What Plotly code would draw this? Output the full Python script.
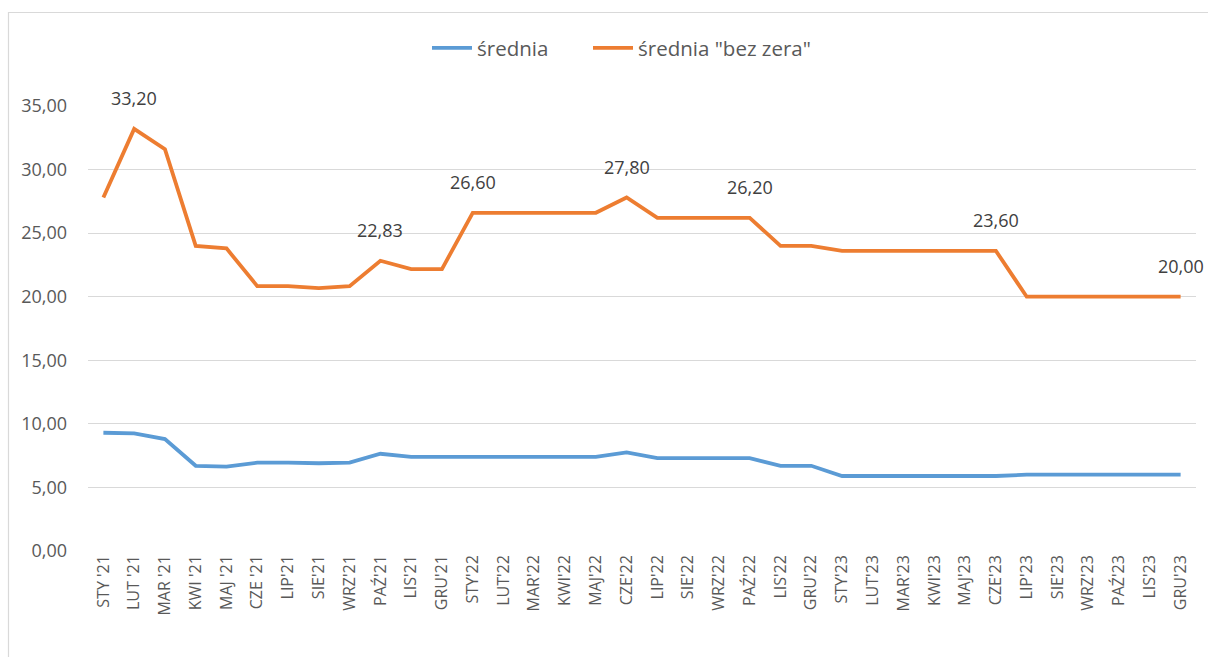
import plotly.graph_objects as go

# Monthly labels (Polish month abbreviations)
months = [
    "STY '21", "LUT '21", "MAR '21", "KWI '21", "MAJ '21", "CZE '21",
    "LIP'21", "SIE'21", "WRZ'21", "PAŹ'21", "LIS'21", "GRU'21",
    "STY'22", "LUT'22", "MAR'22", "KWI'22", "MAJ'22", "CZE'22",
    "LIP'22", "SIE'22", "WRZ'22", "PAŹ'22", "LIS'22", "GRU'22",
    "STY'23", "LUT'23", "MAR'23", "KWI'23", "MAJ'23", "CZE'23",
    "LIP'23", "SIE'23", "WRZ'23", "PAŹ'23", "LIS'23", "GRU'23",
]

srednia = [
    9.30, 9.25, 8.80, 6.70, 6.63, 6.95,
    6.95, 6.90, 6.95, 7.65, 7.40, 7.40,
    7.40, 7.40, 7.40, 7.40, 7.40, 7.75,
    7.30, 7.30, 7.30, 7.30, 6.70, 6.70,
    5.90, 5.90, 5.90, 5.90, 5.90, 5.90,
    6.00, 6.00, 6.00, 6.00, 6.00, 6.00,
]

srednia_bez_zera = [
    27.80, 33.20, 31.60, 24.00, 23.80, 20.83,
    20.83, 20.67, 20.83, 22.83, 22.17, 22.17,
    26.60, 26.60, 26.60, 26.60, 26.60, 27.80,
    26.20, 26.20, 26.20, 26.20, 24.00, 24.00,
    23.60, 23.60, 23.60, 23.60, 23.60, 23.60,
    20.00, 20.00, 20.00, 20.00, 20.00, 20.00,
]

# Points of the orange series that carry a value label
labelled = [1, 9, 12, 17, 21, 29, 35]

y_ticks = [0, 5, 10, 15, 20, 25, 30, 35]

BLUE = "#5B9BD5"
ORANGE = "#ED7D31"
GREY_TEXT = "#595959"
GRID = "#D9D9D9"
FONT = "Open Sans"

W, H = 1208, 657
ML, MR, MT, MB = 88, 12, 106, 106
PW, PH = W - ML - MR, H - MT - MB

x_idx = list(range(len(months)))

fig = go.Figure()
fig.add_trace(go.Scatter(
    x=x_idx, y=srednia, mode="lines", name="średnia",
    line=dict(color=BLUE, width=3.8), legend="legend",
))
fig.add_trace(go.Scatter(
    x=x_idx, y=srednia_bez_zera, mode="lines", name='średnia "bez zera"',
    line=dict(color=ORANGE, width=3.8), legend="legend2",
))


def fmt(v):
    return f"{v:.2f}".replace(".", ",")


for i in labelled:
    fig.add_annotation(
        x=i, y=srednia_bez_zera[i], text=fmt(srednia_bez_zera[i]),
        showarrow=False, yshift=31,
        font=dict(family=FONT, size=18, color="#404040"),
    )


def px_to_paper_x(px):
    return (px - ML) / PW


def px_to_paper_y(py):
    return 1 - (py - MT) / PH


# Outer chart frame
fig.add_shape(
    type="rect", xref="paper", yref="paper",
    x0=px_to_paper_x(8.5), x1=px_to_paper_x(1215),
    y0=px_to_paper_y(680), y1=px_to_paper_y(12.5),
    line=dict(color=GRID, width=1.2), fillcolor="rgba(0,0,0,0)",
    layer="below",
)

legend_style = dict(
    orientation="h", yanchor="middle", y=px_to_paper_y(48), xanchor="left",
    font=dict(family=FONT, size=20.5, color=GREY_TEXT),
    itemwidth=40, bgcolor="rgba(0,0,0,0)",
)

fig.update_layout(
    width=W, height=H,
    margin=dict(l=ML, r=MR, t=MT, b=MB),
    paper_bgcolor="white", plot_bgcolor="white",
    font=dict(family=FONT, color=GREY_TEXT),
    showlegend=True,
    legend=dict(x=px_to_paper_x(427), **legend_style),
    legend2=dict(x=px_to_paper_x(588), **legend_style),
    xaxis=dict(
        range=[-0.5, len(months) - 0.5],
        tickmode="array", tickvals=x_idx, ticktext=months,
        tickangle=-90, showgrid=False, zeroline=False,
        showline=False, ticks="",
        tickfont=dict(family=FONT, size=16, color=GREY_TEXT),
    ),
    yaxis=dict(
        range=[0, 35], tickmode="array", tickvals=y_ticks,
        ticktext=[fmt(v) for v in y_ticks],
        showgrid=True, gridcolor=GRID, gridwidth=1.2,
        zeroline=False, showline=False, ticks="",
        ticklabelstandoff=20,
        tickfont=dict(family=FONT, size=18, color=GREY_TEXT),
    ),
)

fig.write_html("out.html")
